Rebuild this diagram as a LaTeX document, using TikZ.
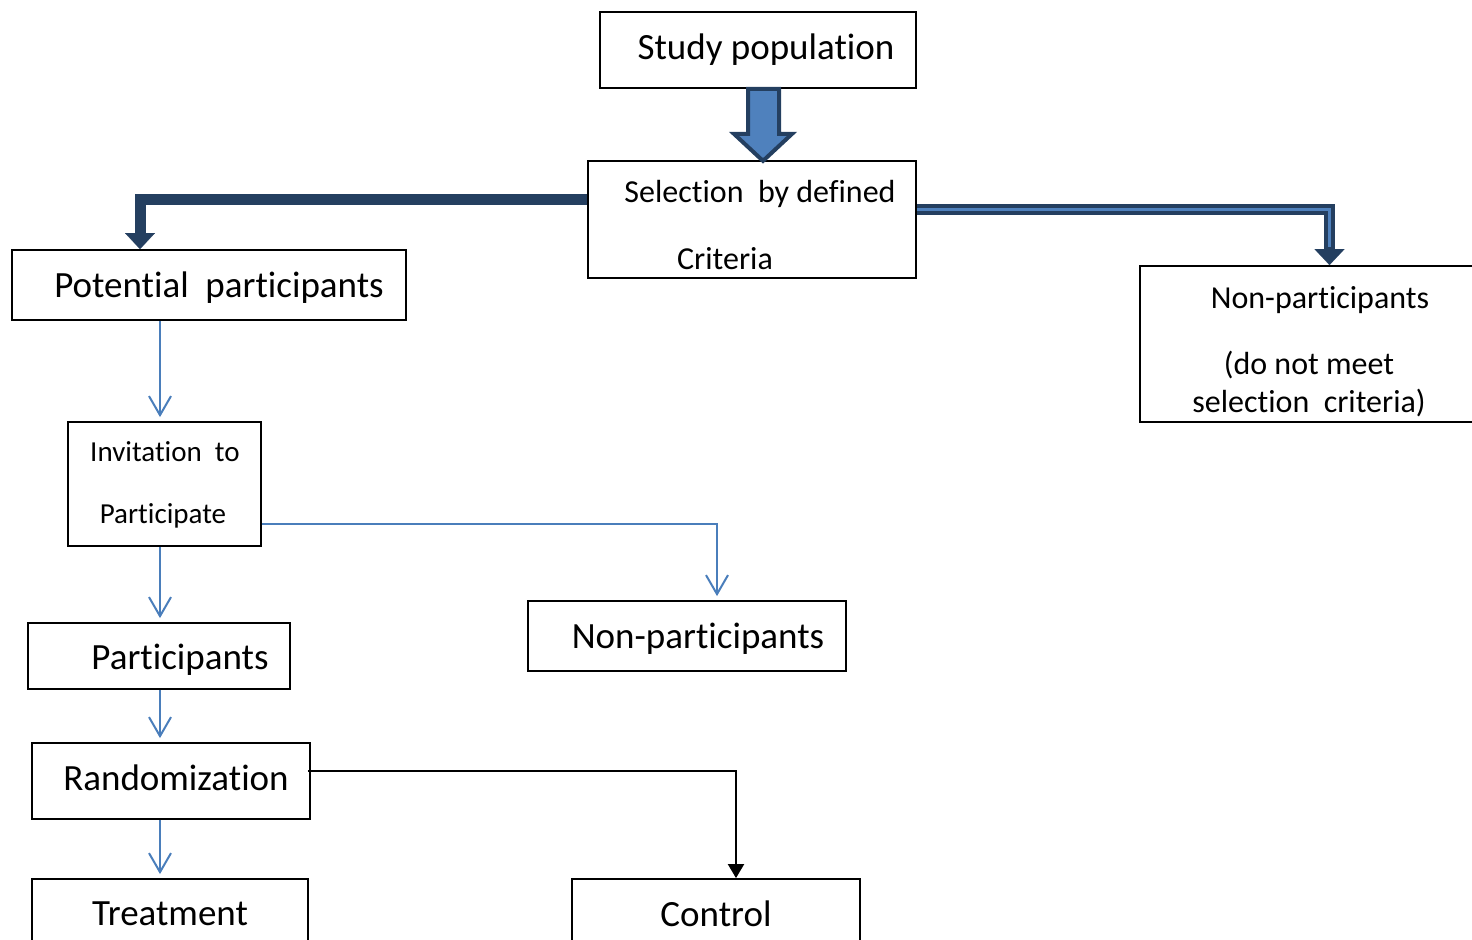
\documentclass[tikz,border=0pt]{standalone}
\usepackage{fontspec}
\setmainfont[Ligatures=NoCommon]{Carlito}
\usetikzlibrary{arrows.meta}
\definecolor{navy}{HTML}{243F60}
\definecolor{midblue}{HTML}{4F81BD}
\definecolor{lineblue}{HTML}{4A7EBB}
\tikzset{
  box/.style={draw, line width=0.9pt, inner sep=0pt},
  bigtxt/.style={font=\fontsize{18.5}{22}\selectfont, inner sep=0pt},
  midtxt/.style={font=\fontsize{16}{19}\selectfont, inner sep=0pt},
  smalltxt/.style={font=\fontsize{14.5}{17}\selectfont, inner sep=0pt},
  thinarrow/.style={draw=lineblue, line width=1pt, -{Straight Barb[length=9.5pt,width=11pt]}, shorten >=2pt},
  thickarrow/.style={draw=navy, line width=5.5pt, -{Triangle[length=8pt,width=15pt,line width=0.1pt]}},
  stripe/.style={draw=midblue, line width=1.5pt, shorten >=9pt},
  blackarrow/.style={draw=black, line width=1pt, -{Triangle[length=7pt,width=8pt]}},
  blockarrow/.style={draw=navy, fill=midblue, line width=2pt, line join=miter}
}
\begin{document}
\begin{tikzpicture}[x=0.5pt,y=-0.5pt]
\useasboundingbox (0,0) rectangle (1472,940);
\clip (0,0) rectangle (1472,940);
% boxes
\node[box, minimum width=158pt, minimum height=38pt] (study) at (758,50) {};
\node[box, minimum width=164pt, minimum height=58.5pt] (select) at (752,219.5) {};
\node[box, minimum width=197pt, minimum height=35pt] (potential) at (209,285) {};
\node[box, minimum width=170pt, minimum height=78pt] (nonsel) at (1310,344) {};
\node[box, minimum width=96.5pt, minimum height=62pt] (invite) at (164.5,484) {};
\node[box, minimum width=131pt, minimum height=33pt] (part) at (159,656) {};
\node[box, minimum width=159pt, minimum height=35pt] (nonpart) at (687,636) {};
\node[box, minimum width=139pt, minimum height=38pt] (random) at (171,781) {};
\node[box, minimum width=138pt, minimum height=50.5pt] (treat) at (170,929.5) {};
\node[box, minimum width=144pt, minimum height=50.5pt] (control) at (716,929.5) {};
% texts
\node[bigtxt] (studytxt) at (766,50) {Study population};
\node[midtxt] (selecttxta) at (760,194) {Selection\ \ by defined};
\node[midtxt] (selecttxtb) at (725,259) {Criteria};
\node[bigtxt] (potentialtxt) at (219,288) {Potential\ \ participants};
\node[midtxt] (nonseltxta) at (1320,300) {Non-participants};
\node[midtxt] (nonseltxtb) at (1309,365) {(do not meet};
\node[midtxt] (nonseltxtc) at (1309,403) {selection\ \ criteria)};
\node[smalltxt] (invitetxta) at (165,452) {Invitation\ \ to};
\node[smalltxt] (invitetxtb) at (163,516) {Participate};
\node[bigtxt] (parttxt) at (180,660) {Participants};
\node[bigtxt] (nonparttxt) at (698,639) {Non-participants};
\node[bigtxt] (randomtxt) at (176,778) {Randomization};
\node[bigtxt] (treattxt) at (170,914) {Treatment};
\node[bigtxt] (controltxt) at (716,914) {Control};
% block arrow
\draw[blockarrow] ([shift={(-10,0)}]study.south) -- ++(0,45) -- ++(-14,0) -- ++(29,27)
  -- ++(29,-27) -- ++(-13,0) -- ++(0,-45) -- cycle;
% thick connectors
\draw[thickarrow] ([shift={(0,-19.5)}]select.west) -| ([shift={(-69,0)}]potential.north);
\draw[thickarrow] ([shift={(0,-10)}]select.east) -| ([shift={(19.5,0)}]nonsel.north);
\draw[stripe] ([shift={(0,-10)}]select.east) -| ([shift={(19.5,0)}]nonsel.north);
% thin connectors
\draw[thinarrow] ([shift={(-49,0)}]potential.south) -- ([shift={(-4.5,0)}]invite.north);
\draw[thinarrow] ([shift={(-4.5,0)}]invite.south) -- ([shift={(1,0)}]part.north);
\draw[thinarrow] ([shift={(0,40)}]invite.east) -| ([shift={(30,0)}]nonpart.north);
\draw[thinarrow] ([shift={(1,0)}]part.south) -- ([shift={(-11,0)}]random.north);
\draw[thinarrow] ([shift={(-11,0)}]random.south) -- ([shift={(-10,0)}]treat.north);
\draw[blackarrow] ([shift={(-3,-10.5)}]random.east) -| ([shift={(20,0)}]control.north);
\end{tikzpicture}
\end{document}
